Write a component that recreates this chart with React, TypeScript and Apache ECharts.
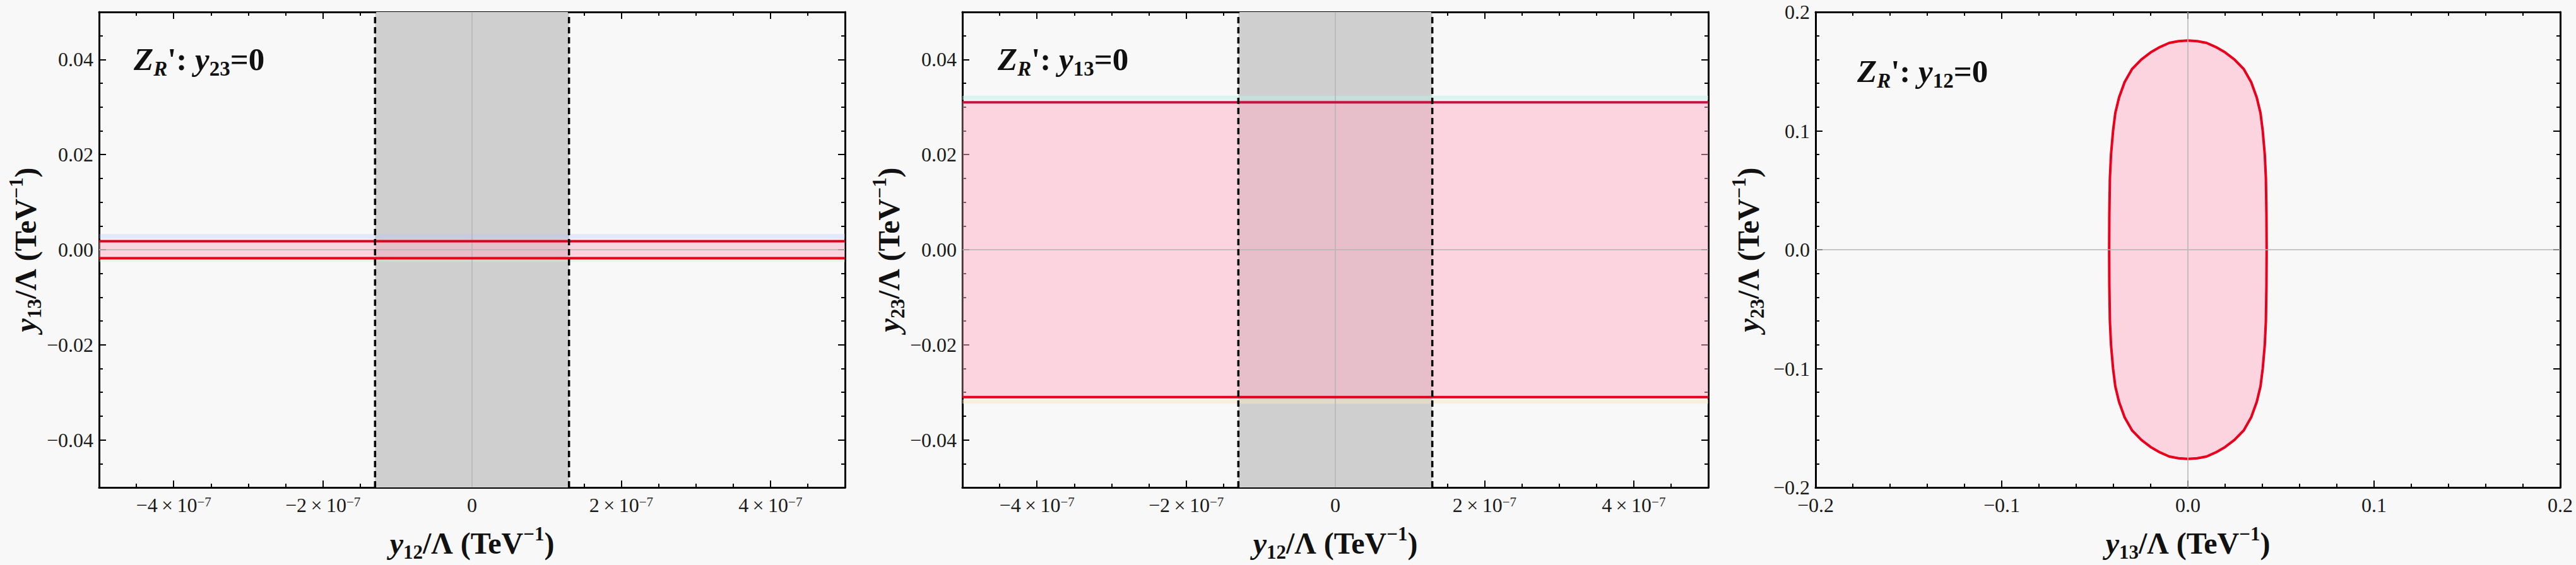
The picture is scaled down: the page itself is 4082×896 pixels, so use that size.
import React, { useEffect, useRef } from "react";
import * as echarts from "echarts";

const W = 4082;
const H = 896;
const SERIF = "Liberation Serif";

// ---------- data ----------
// Panel 1 (y23 = 0): x = y12/Λ, y = y13/Λ
const p1XRange = [-5e-7, 5e-7];
const p1YRange = [-0.05, 0.05];
const p1GrayBand = [-1.3e-7, 1.3e-7];
const p1RedLines = [0.0018, -0.0018];
const p1PinkBand = [-0.0018, 0.0018];
const p1BlueFringe = [0.0023, 0.0033];
const p1GreenFringe = [-0.0026, -0.0021];

// Panel 2 (y13 = 0): x = y12/Λ, y = y23/Λ
const p2XRange = [-5e-7, 5e-7];
const p2YRange = [-0.05, 0.05];
const p2GrayBand = [-1.3e-7, 1.3e-7];
const p2RedLines = [0.031, -0.031];
const p2PinkBand = [-0.031, 0.031];
const p2CyanFringe = [0.0315, 0.0324];
const p2CreamFringe = [-0.0324, -0.0315];

// Panel 3 (y12 = 0): x = y13/Λ, y = y23/Λ — boundary read in the upper-right quadrant
const p3Range = [-0.2, 0.2];
const p3BoundaryQuadrant: [number, number][] = [
  [0, 0.176],
  [0.005, 0.1755],
  [0.01, 0.174],
  [0.015, 0.1705],
  [0.02, 0.166],
  [0.025, 0.16],
  [0.03, 0.152],
  [0.034, 0.141],
  [0.037, 0.128],
  [0.039, 0.115],
  [0.0402, 0.1],
  [0.0413, 0.08],
  [0.0419, 0.06],
  [0.0422, 0.03],
  [0.0423, 0],
];

// tick labels
const expTicks = [-4e-7, -2e-7, 0, 2e-7, 4e-7];
const expTickMantissas = ["−4", "−2", "0", "2", "4"];
const expTickExponent = "−7";
const smallYTicks = [-0.04, -0.02, 0, 0.02, 0.04];
const smallYTickLabels = ["−0.04", "−0.02", "0.00", "0.02", "0.04"];
const p3Ticks = [-0.2, -0.1, 0, 0.1, 0.2];
const p3TickLabels = ["−0.2", "−0.1", "0.0", "0.1", "0.2"];

// text
const panelConditionSubs = ["23", "13", "12"];
const xTitleSubs = ["12", "12", "13"];
const yTitleSubs = ["13", "23", "23"];

// ---------- layout ----------
const GRID_TOP = 19;
const GRID_H = 757;
const grids = [
  { left: 157, width: 1182 },
  { left: 1525, width: 1182 },
  { left: 2877, width: 1180 },
];
const annotPos = [
  { x: 212, y: 94 },
  { x: 1581, y: 94 },
  { x: 2943, y: 113 },
];
const yNameGaps = [86, 86, 77];

const titleRich = {
  i: { fontFamily: SERIF, fontWeight: "bold", fontStyle: "italic", fontSize: 48, color: "#111", lineHeight: 60 },
  b: { fontFamily: SERIF, fontWeight: "bold", fontSize: 48, color: "#111", lineHeight: 60 },
  sub: { fontFamily: SERIF, fontWeight: "bold", fontSize: 31, color: "#111", verticalAlign: "bottom", lineHeight: 32 },
  sup: { fontFamily: SERIF, fontWeight: "bold", fontSize: 31, color: "#111", verticalAlign: "top", lineHeight: 30 },
};

const tickRich = {
  n: { fontFamily: SERIF, fontSize: 32, color: "#1a1a1a", lineHeight: 32 },
  e: { fontFamily: SERIF, fontSize: 21, color: "#1a1a1a", verticalAlign: "top", lineHeight: 18 },
};

function findLabel(v: number, ticks: number[], span: number): number {
  for (let i = 0; i < ticks.length; i++) {
    if (Math.abs(v - ticks[i]) < span * 1e-6) return i;
  }
  return -1;
}

const expFormatter = (v: number) => {
  const i = findLabel(v, expTicks, 1e-6);
  if (i < 0) return "";
  if (expTicks[i] === 0) return `{n|${expTickMantissas[i]}}`;
  return `{n|${expTickMantissas[i]}\u2009×\u200910}{e|${expTickExponent}}`;
};
const smallYFormatter = (v: number) => {
  const i = findLabel(v, smallYTicks, 0.1);
  return i < 0 ? "" : `{n|${smallYTickLabels[i]}}`;
};
const p3Formatter = (v: number) => {
  const i = findLabel(v, p3Ticks, 0.4);
  return i < 0 ? "" : `{n|${p3TickLabels[i]}}`;
};

const axisTitle = (sub: string) => `{i|y}{sub|${sub}}{b|/Λ (TeV}{sup|−1}{b|)}`;

function axisPair(
  kind: "x" | "y",
  gi: number,
  range: number[],
  splitNumber: number,
  minorSplit: number,
  formatter: (v: number) => string,
  name: string,
  nameGap: number
) {
  const common: any = {
    type: "value",
    gridIndex: gi,
    min: range[0],
    max: range[1],
    splitNumber,
    axisLine: { show: true, onZero: false, lineStyle: { color: "#000", width: 3 } },
    axisTick: { show: true, inside: true, length: 11, lineStyle: { color: "#000", width: 2 } },
    minorTick: { show: true, splitNumber: minorSplit, length: 6, lineStyle: { color: "#000", width: 2 } },
    splitLine: { show: false },
    minorSplitLine: { show: false },
  };
  const main = {
    ...common,
    position: kind === "x" ? "bottom" : "left",
    axisLabel: { show: true, formatter, rich: tickRich, margin: kind === "x" ? 12 : 9, showMinLabel: true, showMaxLabel: true },
    name,
    nameLocation: "middle",
    nameGap,
    nameRotate: kind === "y" ? 90 : 0,
    nameTextStyle: { rich: titleRich },
  };
  const opp = {
    ...common,
    position: kind === "x" ? "top" : "right",
    axisLabel: { show: false },
  };
  return [main, opp];
}

function bandSeries(gi: number, x0: number, x1: number, y0: number, y1: number, color: string) {
  return {
    type: "custom",
    xAxisIndex: gi * 2,
    yAxisIndex: gi * 2,
    silent: true,
    clip: true,
    data: [[x0, y0, x1, y1]],
    renderItem: (_p: any, api: any) => {
      const a = api.coord([api.value(0), api.value(1)]);
      const b = api.coord([api.value(2), api.value(3)]);
      return {
        type: "rect",
        shape: {
          x: Math.min(a[0], b[0]),
          y: Math.min(a[1], b[1]),
          width: Math.abs(b[0] - a[0]),
          height: Math.abs(b[1] - a[1]),
        },
        style: { fill: color },
      };
    },
  };
}

function lineSeries(gi: number, pts: number[][], color: string, width: number, type: any = "solid") {
  return {
    type: "line",
    xAxisIndex: gi * 2,
    yAxisIndex: gi * 2,
    silent: true,
    symbol: "none",
    data: pts,
    lineStyle: { color, width, type },
  };
}

function buildEllipse(q: [number, number][]): number[][] {
  const ur = q.map(([x, y]) => [x, y]);
  const lr = q.slice(0, -1).reverse().map(([x, y]) => [x, -y]);
  const ll = q.slice(1).map(([x, y]) => [-x, -y]);
  const ul = q.slice(1, -1).reverse().map(([x, y]) => [-x, y]);
  return [...ur, ...lr, ...ll, ...ul];
}

const PINK = "rgba(255,176,198,0.5)";
const GRAY = "#cfcfcf";
const ZERO = "#b4b4b4";

function buildOption() {
  const xAxes = [
    ...axisPair("x", 0, p1XRange, 5, 4, expFormatter, axisTitle(xTitleSubs[0]), 58),
    ...axisPair("x", 1, p2XRange, 5, 4, expFormatter, axisTitle(xTitleSubs[1]), 58),
    ...axisPair("x", 2, p3Range, 4, 5, p3Formatter, axisTitle(xTitleSubs[2]), 58),
  ];
  const yAxes = [
    ...axisPair("y", 0, p1YRange, 5, 4, smallYFormatter, axisTitle(yTitleSubs[0]), yNameGaps[0]),
    ...axisPair("y", 1, p2YRange, 5, 4, smallYFormatter, axisTitle(yTitleSubs[1]), yNameGaps[1]),
    ...axisPair("y", 2, p3Range, 4, 5, p3Formatter, axisTitle(yTitleSubs[2]), yNameGaps[2]),
  ];

  const ellipse = buildEllipse(p3BoundaryQuadrant);

  const series: any[] = [
    // panel 1
    bandSeries(0, p1GrayBand[0], p1GrayBand[1], p1YRange[0], p1YRange[1], GRAY),
    bandSeries(0, p1XRange[0], p1XRange[1], p1PinkBand[0], p1PinkBand[1], PINK),
    bandSeries(0, p1XRange[0], p1XRange[1], p1BlueFringe[0], p1BlueFringe[1], "rgba(180,200,255,0.3)"),
    bandSeries(0, p1XRange[0], p1XRange[1], p1GreenFringe[0], p1GreenFringe[1], "rgba(200,240,200,0.35)"),
    lineSeries(0, [[0, p1YRange[0]], [0, p1YRange[1]]], ZERO, 1.5),
    lineSeries(0, [[p1XRange[0], 0], [p1XRange[1], 0]], ZERO, 1.5),
    ...p1RedLines.map((y) => lineSeries(0, [[p1XRange[0], y], [p1XRange[1], y]], "#e0001c", 4)),
    ...p1GrayBand.map((x) => lineSeries(0, [[x, p1YRange[0]], [x, p1YRange[1]]], "#000", 3.5, [10, 6])),
    // panel 2
    bandSeries(1, p2GrayBand[0], p2GrayBand[1], p2YRange[0], p2YRange[1], GRAY),
    bandSeries(1, p2XRange[0], p2XRange[1], p2PinkBand[0], p2PinkBand[1], PINK),
    bandSeries(1, p2XRange[0], p2XRange[1], p2CyanFringe[0], p2CyanFringe[1], "rgba(190,240,230,0.5)"),
    bandSeries(1, p2XRange[0], p2XRange[1], p2CreamFringe[0], p2CreamFringe[1], "rgba(250,230,190,0.5)"),
    lineSeries(1, [[0, p2YRange[0]], [0, p2YRange[1]]], ZERO, 1.5),
    lineSeries(1, [[p2XRange[0], 0], [p2XRange[1], 0]], ZERO, 1.5),
    lineSeries(1, [[p2XRange[0], p2RedLines[0]], [p2XRange[1], p2RedLines[0]]], "#cc0f45", 4),
    lineSeries(1, [[p2XRange[0], p2RedLines[1]], [p2XRange[1], p2RedLines[1]]], "#e3001a", 4),
    ...p2GrayBand.map((x) => lineSeries(1, [[x, p2YRange[0]], [x, p2YRange[1]]], "#000", 3.5, [10, 6])),
    // panel 3
    lineSeries(2, [[0, p3Range[0]], [0, p3Range[1]]], ZERO, 1.5),
    lineSeries(2, [[p3Range[0], 0], [p3Range[1], 0]], ZERO, 1.5),
    {
      type: "custom",
      xAxisIndex: 4,
      yAxisIndex: 4,
      silent: true,
      clip: true,
      data: ellipse,
      renderItem: (params: any, api: any) => {
        if (params.dataIndex !== 0) return null;
        const pts = ellipse.map((p) => api.coord(p));
        return {
          type: "polygon",
          shape: { points: pts },
          style: { fill: PINK, stroke: "#e8001c", lineWidth: 4, lineJoin: "round" },
        };
      },
    },
  ];

  const graphic = annotPos.map((p, i) => ({
    type: "text",
    x: p.x,
    y: p.y,
    silent: true,
    style: {
      text: `{z|Z}{r|R}{b|': }{i|y}{s|${panelConditionSubs[i]}}{b|=0}`,
      verticalAlign: "middle",
      rich: {
        z: { fontFamily: SERIF, fontWeight: "bold", fontStyle: "italic", fontSize: 51, fill: "#111", lineHeight: 62 },
        b: { fontFamily: SERIF, fontWeight: "bold", fontSize: 51, fill: "#111", lineHeight: 62 },
        i: { fontFamily: SERIF, fontWeight: "bold", fontStyle: "italic", fontSize: 51, fill: "#111", lineHeight: 62 },
        r: { fontFamily: SERIF, fontWeight: "bold", fontStyle: "italic", fontSize: 33, fill: "#111", verticalAlign: "bottom", lineHeight: 33 },
        s: { fontFamily: SERIF, fontWeight: "bold", fontSize: 33, fill: "#111", verticalAlign: "bottom", lineHeight: 33 },
      },
    },
  }));

  return {
    animation: false,
    backgroundColor: "#f8f8f8",
    grid: grids.map((g) => ({ left: g.left, top: GRID_TOP, width: g.width, height: GRID_H, containLabel: false })),
    xAxis: xAxes,
    yAxis: yAxes,
    series,
    graphic,
  };
}

export default function App() {
  const ref = useRef<HTMLDivElement>(null);
  useEffect(() => {
    document.body.style.margin = "0";
    document.body.style.background = "#f8f8f8";
    const chart = echarts.init(ref.current as HTMLDivElement, null, { renderer: "svg", width: W, height: H });
    chart.setOption(buildOption() as any);
    return () => chart.dispose();
  }, []);
  return <div ref={ref} style={{ width: W, height: H }} />;
}
